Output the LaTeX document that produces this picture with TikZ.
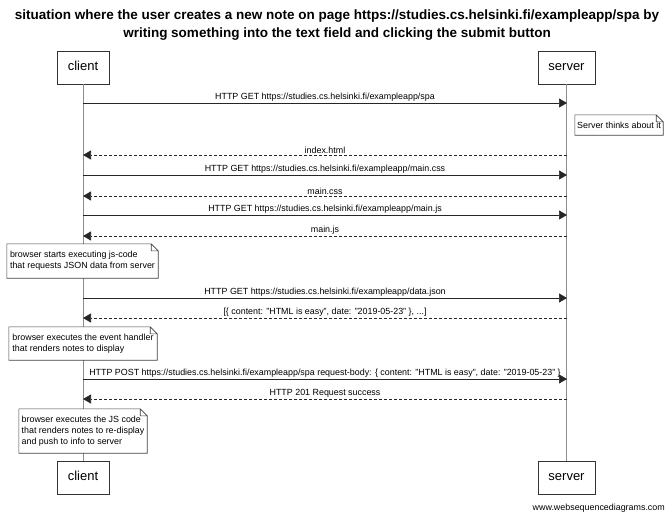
\documentclass[tikz,border=0pt]{standalone}
\usepackage{fontspec}
\setmainfont{Liberation Sans}
\usetikzlibrary{arrows.meta}

% outline of a note with a folded top-right corner, drawn round a named node
\newcommand\foldednote[1]{%
  \draw[noteline] (#1.north west) -- ([xshift=-7pt]#1.north east)
    -- ([yshift=-7pt]#1.north east) -- (#1.south east)
    -- (#1.south west) -- cycle
    ([xshift=-7pt]#1.north east) |- ([yshift=-7pt]#1.north east);}

\begin{document}
\begin{tikzpicture}[
  x=1pt, y=-1pt,
  actor/.style={draw=black!80, fill=white, line width=0.8pt, minimum height=33pt,
    inner sep=0pt, text height=9.5pt, text depth=3pt,
    font=\fontsize{13}{15}\selectfont},
  lifeline/.style={draw=black!45, line width=1pt},
  call/.style={draw=black!85, line width=0.7pt,
    -{Triangle[length=8pt,width=9pt]}},
  reply/.style={call, dash pattern=on 3pt off 2pt},
  lbl/.style={above=0.5pt, inner sep=1pt, font=\fontsize{8.9}{10}\selectfont},
  note/.style={fill=white, align=left, inner sep=0pt,
    font=\fontsize{8.9}{11}\selectfont},
  noteline/.style={draw=black!75, line width=0.6pt},
]
\useasboundingbox (0,0) rectangle (671,517);

% title
\node[align=center, font=\bfseries\fontsize{13.5}{18}\selectfont] (title) at (337,25)
  {situation where the user creates a new note on page https://studies.cs.helsinki.fi/exampleapp/spa by\\
   writing something into the text field and clicking the submit button};

% participants
\node[actor, minimum width=52pt] (ctop) at (83,67.5) {client};
\node[actor, minimum width=57pt] (stop) at (566.5,67.5) {server};
\node[actor, minimum width=52pt] (cbot) at (83,477.5) {client};
\node[actor, minimum width=57pt] (sbot) at (566.5,477.5) {server};

% lifelines
\draw[lifeline] (ctop.south) -- (cbot.north);
\draw[lifeline] (stop.south) -- (sbot.north);

% message end points on the lifelines
\foreach \k/\y in {1/103, 2/155, 3/175, 4/196, 5/215, 6/236, 7/298, 8/318, 9/379, 10/399} {
  \coordinate (c\k) at (83,\y);
  \coordinate (s\k) at (567,\y);
}

\draw[call]  (c1) -- node[lbl] {HTTP GET https://studies.cs.helsinki.fi/exampleapp/spa} (s1);
\node[note, minimum width=88pt, minimum height=20pt] (n0) at (619,125) {Server thinks about it};
\foldednote{n0}
\draw[reply] (s2) -- node[lbl] {index.html} (c2);
\draw[call]  (c3) -- node[lbl] {HTTP GET https://studies.cs.helsinki.fi/exampleapp/main.css} (s3);
\draw[reply] (s4) -- node[lbl] {main.css} (c4);
\draw[call]  (c5) -- node[lbl] {HTTP GET https://studies.cs.helsinki.fi/exampleapp/main.js} (s5);
\draw[reply] (s6) -- node[lbl] {main.js} (c6);

\node[note, minimum width=151pt, minimum height=34pt] (n1) at (82.5,261)
  {browser starts executing js-code\\that requests JSON data from server};
\foldednote{n1}

\draw[call]  (c7) -- node[lbl] {HTTP GET https://studies.cs.helsinki.fi/exampleapp/data.json} (s7);
\draw[reply] (s8) -- node[lbl] {[\{ content: "HTML is easy", date: "2019-05-23" \}, ...]} (c8);

\node[note, minimum width=148pt, minimum height=33pt] (n2) at (83,343.5)
  {browser executes the event handler\\that renders notes to display};
\foldednote{n2}

\draw[call]  (c9) -- node[lbl] {HTTP POST https://studies.cs.helsinki.fi/exampleapp/spa request-body: \{ content: "HTML is easy", date: "2019-05-23" \}} (s9);
\draw[reply] (s10) -- node[lbl] {HTTP 201 Request success} (c10);

\node[note, minimum width=128pt, minimum height=44pt] (n3) at (83,431)
  {browser executes the JS code\\that renders notes to re-display\\and push to info to server};
\foldednote{n3}

% footer
\node[anchor=east, inner sep=0pt, font=\fontsize{8.9}{10}\selectfont] (credit) at (665,508)
  {www.websequencediagrams.com};
\end{tikzpicture}
\end{document}
